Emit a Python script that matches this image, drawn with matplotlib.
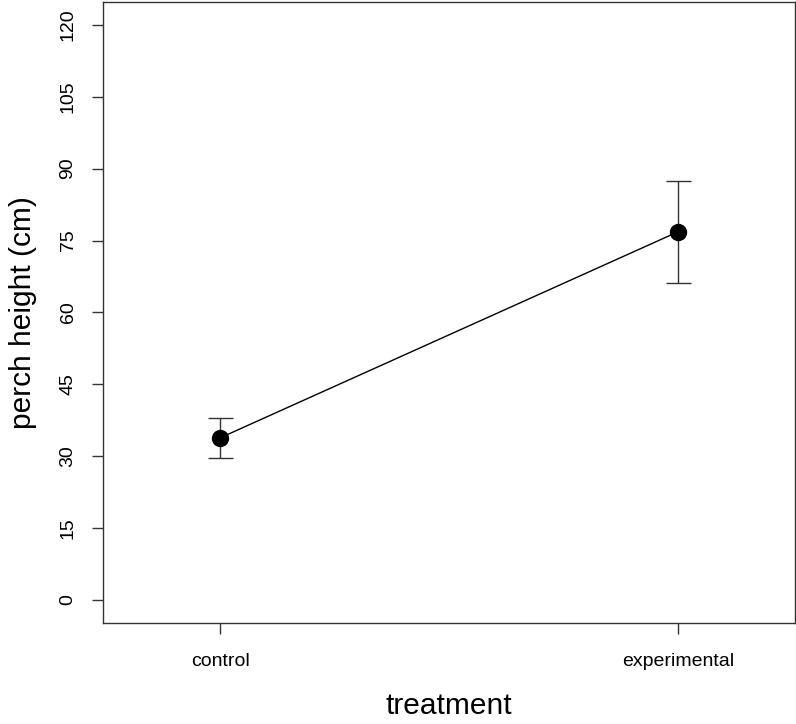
import matplotlib
matplotlib.use("Agg")
import matplotlib.pyplot as plt

categories = ["control", "experimental"]
means = [33.8, 76.8]
lower = [29.6, 66.2]
upper = [38.0, 87.4]
yticks = [0, 15, 30, 45, 60, 75, 90, 105, 120]

plt.rcParams['font.family'] = ['Liberation Sans', 'DejaVu Sans']

fig = plt.figure(figsize=(7.96, 7.24), dpi=100)
ax = fig.add_axes([103/796, (724-622.7)/724, 692/796, 620.7/724])

x = [1, 2]
yerr = [[m - l for m, l in zip(means, lower)], [u - m for m, u in zip(means, upper)]]
ax.errorbar(x, means, yerr=yerr, fmt='none', ecolor='#333333', elinewidth=1.0,
            capsize=9, capthick=1.0, zorder=2)
ax.plot(x, means, color='black', linewidth=1.0, zorder=3)
ax.plot(x, means, 'o', color='black', markersize=11.5, zorder=4)

ax.set_xlim(0.744, 2.256)
ax.set_ylim(-4.8, 124.8)
ax.set_xticks(x)
ax.set_xticklabels(categories, fontsize=14)
ax.set_yticks(yticks)
ax.set_yticklabels([str(v) for v in yticks], fontsize=14, rotation=90, va='center')
ax.tick_params(axis='both', direction='out', length=8, width=1.0, color='#333333')
ax.tick_params(axis='x', pad=14)
ax.tick_params(axis='y', pad=11)
for s in ax.spines.values():
    s.set_linewidth(1.0)
    s.set_color('#333333')

ax.set_xlabel("treatment", fontsize=21.5, labelpad=16)
ax.set_ylabel("perch height (cm)", fontsize=21.5, labelpad=16)

fig.savefig("out.png", dpi=100)
